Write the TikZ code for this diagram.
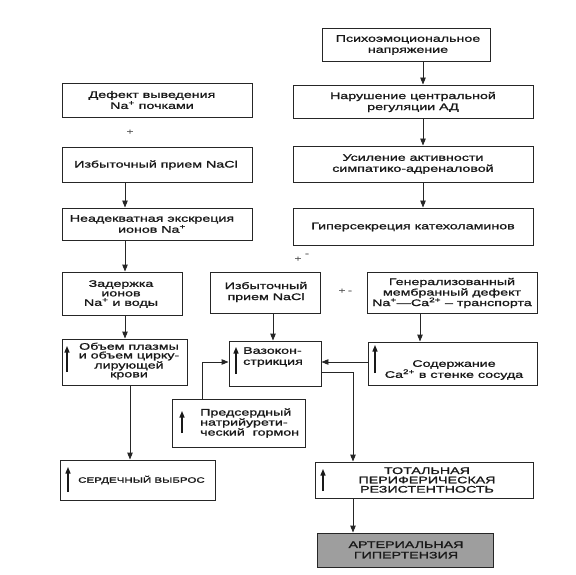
\documentclass[tikz,border=0pt]{standalone}
\usepackage{fontspec}
\setmainfont{Liberation Sans}[FakeStretch=1.5,FakeBold=1.3]
\usetikzlibrary{arrows.meta,fit}
\tikzset{
  box/.style={draw=black!85, line width=0.9pt, inner sep=0pt},
  txt/.style={font=\fontsize{9.5}{11}\selectfont, align=center, inner sep=0pt, text=black!90},
  con/.style={draw=black!85, line width=0.9pt, -{Triangle[length=7pt,width=5.5pt]}},
  uparr/.style={draw=black!90, line width=1.3pt, -{Triangle[length=6.5pt,width=5pt]}},
  speck/.style={font=\fontsize{8}{8}\selectfont, inner sep=0pt, text=black!70},
}
\begin{document}
\begin{tikzpicture}[x=1pt,y=-1pt]
\useasboundingbox (0,0) rectangle (576,575);
% column coordinates
\coordinate (cR) at (423,0);
\coordinate (cL) at (125,0);
\coordinate (cL2) at (130,0);
\coordinate (cM) at (273,0);
\coordinate (cG) at (420,0);
\coordinate (cT) at (353,0);
\coordinate (cP) at (202,0);
\coordinate (rH) at (0,362);
\coordinate (rV) at (0,372);
% right column
\node[box, fit={(322,28)(490,61)}] (psy) {};
\node[txt] (psyt) at (408,45) {Психоэмоциональное\\напряжение};
\node[box, fit={(293,85)(533,118)}] (nar) {};
\node[txt] (nart) at (413,102) {Нарушение центральной\\регуляции АД};
\node[box, fit={(293,146)(533,182)}] (usi) {};
\node[txt] (usit) at (413,164) {Усиление активности\\симпатико-адреналовой};
\node[box, fit={(293,208)(533,245)}] (gip) {};
\node[txt] (gipt) at (413,227) {Гиперсекреция катехоламинов};
% left column
\node[box, fit={(62,83)(252,117)}] (def) {};
\node[txt] (deft) at (152,100) {Дефект выведения\\Na\textsuperscript{+} почками};
\node[box, fit={(62,147)(252,182)}] (izb) {};
\node[txt] (izbt) at (156,165) {Избыточный прием NaCl};
\node[box, fit={(62,208)(252,240)}] (nea) {};
\node[txt] (neat) at (152,224) {Неадекватная экскреция\\ионов Na\textsuperscript{+}};
\node[box, fit={(62,272)(182,315)}] (zad) {};
\node[txt, font=\fontsize{9.5}{9.5}\selectfont] (zadt) at (121,294) {Задержка\\ионов\\Na\textsuperscript{+} и воды};
\node[box, fit={(62,339)(187,385)}] (obj) {};
\node[txt, font=\fontsize{9.5}{8.8}\selectfont] (objt) at (129,361) {Объем плазмы\\и объем цирку-\\лирующей\\крови};
\draw[uparr] (67,372) -- (67,346);
\node[box, fit={(60,460)(215,500)}] (ser) {};
\node[txt, anchor=west, font=\fontsize{7.7}{9}\selectfont] (sert) at (78,480) {СЕРДЕЧНЫЙ ВЫБРОС};
\draw[uparr] (68,492) -- (68,467);
% middle
\node[box, fit={(210,272)(320,313)}] (izm) {};
\node[txt] (izmt) at (266,292) {Избыточный\\прием NaCl};
\node[box, fit={(229,341)(321,386)}] (vaz) {};
\node[txt, anchor=west, align=left] (vazt) at (243,357) {Вазокон-\\стрикция};
\draw[uparr] (236,374) -- (236,347);
\node[box, fit={(367,272)(537,313)}] (gen) {};
\node[txt, font=\fontsize{9.5}{10.5}\selectfont] (gent) at (452,293) {Генерализованный\\мембранный дефект\\Na\textsuperscript{+}—Ca\textsuperscript{2+} – транспорта};
\node[box, fit={(368,342)(537,385)}] (sod) {};
\node[txt] (sodt) at (454,370) {Содержание\\Ca\textsuperscript{2+} в стенке сосуда};
\draw[uparr] (375,373) -- (375,345);
\node[box, fit={(172,399)(305,447)}] (pre) {};
\node[txt, anchor=west, align=left, font=\fontsize{9.5}{10}\selectfont] (pret) at (200,423) {Предсердный\\натрийурети-\\ческий\ \ гормон};
\draw[uparr] (182,433) -- (182,411);
\node[box, fit={(315,462)(533,498)}] (tot) {};
\node[txt, font=\fontsize{9.5}{9.3}\selectfont] (tott) at (427,480) {ТОТАЛЬНАЯ\\ПЕРИФЕРИЧЕСКАЯ\\РЕЗИСТЕНТНОСТЬ};
\draw[uparr] (323,491) -- (323,469);
\node[box, fill=black!38, fit={(317,533)(493,567)}] (art) {};
\node[txt, font=\fontsize{9.5}{10.5}\selectfont] (artt) at (406,550) {АРТЕРИАЛЬНАЯ\\ГИПЕРТЕНЗИЯ};
% specks
\node[speck] (s1) at (130,132) {+};
\node[speck] (s2) at (298,259) {+};
\node[speck] (s3) at (307,255) {-};
\node[speck] (s4) at (342,291) {+};
\node[speck] (s5) at (350,292) {-};
% connectors
\draw[con] (psy.south -| cR) -- (nar.north -| cR);
\draw[con] (nar.south -| cR) -- (usi.north -| cR);
\draw[con] (usi.south -| cR) -- (gip.north -| cR);
\draw[con] (izb.south -| cL) -- (nea.north -| cL);
\draw[con] (nea.south -| cL) -- (zad.north -| cL);
\draw[con] (zad.south -| cL) -- (obj.north -| cL);
\draw[con] (obj.south -| cL2) -- (ser.north -| cL2);
\draw[con] (izm.south -| cM) -- (vaz.north -| cM);
\draw[con] (gen.south -| cG) -- (sod.north -| cG);
\draw[con] (sod.west |- rH) -- (vaz.east |- rH);
\draw[con] (pre.north -| cP) |- (vaz.west |- rH);
\draw[con] (vaz.east |- rV) -| (tot.north -| cT);
\draw[con] (tot.south -| cT) -- (art.north -| cT);
\end{tikzpicture}
\end{document}
